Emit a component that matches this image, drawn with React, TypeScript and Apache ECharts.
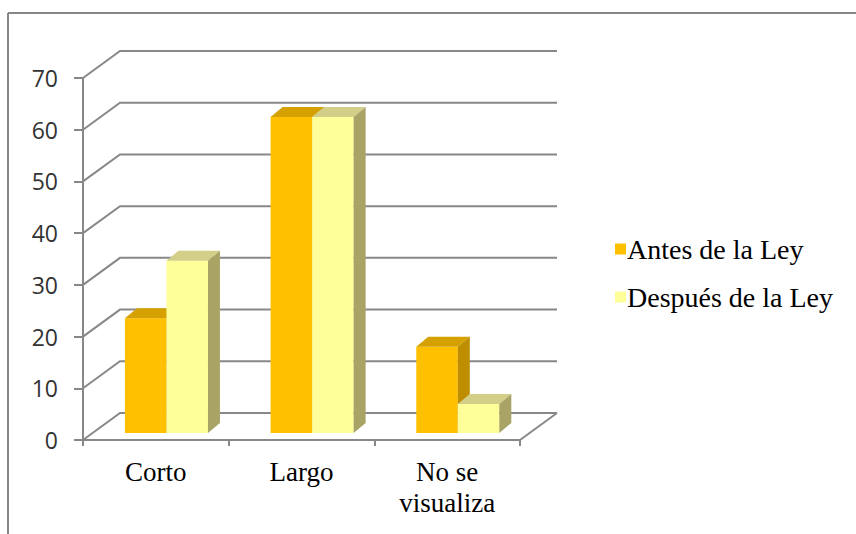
import React, { useEffect, useRef } from "react";
import * as echarts from "echarts";

const categories = ["Corto", "Largo", "No se\nvisualiza"];
const seriesNames = ["Antes de la Ley", "Después de la Ley"];
const antes = [22.2, 61.1, 16.7];
const despues = [33.3, 61.1, 5.6];
const yTicks = [0, 10, 20, 30, 40, 50, 60, 70];

const DX = 37; // wall depth x
const DY = 27; // wall depth y
const OX = 9.6; // bar front-plane offset
const OY = 7;
const BDX = 12; // bar depth
const BDY = 10;

const faceColors = [
  { front: "#FFC000", top: "#D4A100", side: "#BE8E00" },
  { front: "#FFFF99", top: "#D3CF89", side: "#A9A466" },
];

export default function App() {
  const ref = useRef<HTMLDivElement>(null);
  useEffect(() => {
    if (!ref.current) return;
    const chart = echarts.init(ref.current, null, { renderer: "svg" });
    const gridColor = "#888888";

    const barRender = (s: number) => (params: any, api: any) => {
      const cat = api.value(0);
      const v = api.value(1);
      const bandW = api.size([1, 0])[0];
      const base = api.coord([cat, 0]);
      const topP = api.coord([cat, v]);
      const bandStart = base[0] - bandW / 2;
      const barW = bandW * 0.285;
      const x0 = bandStart + OX + bandW * 0.222 + s * barW;
      const x1 = x0 + barW;
      const yT = topP[1] - OY;
      const yB = base[1] - OY;
      const c = faceColors[s];
      return {
        type: "group",
        children: [
          {
            type: "polygon",
            shape: { points: [[x0, yT], [x1, yT], [x1, yB], [x0, yB]] },
            style: { fill: c.front },
          },
          {
            type: "polygon",
            shape: { points: [[x0, yT], [x0 + BDX, yT - BDY], [x1 + BDX, yT - BDY], [x1, yT]] },
            style: { fill: c.top },
          },
          {
            type: "polygon",
            shape: { points: [[x1, yT], [x1 + BDX, yT - BDY], [x1 + BDX, yB - BDY], [x1, yB]] },
            style: { fill: c.side },
          },
        ],
      };
    };

    const option: any = {
      animation: false,
      backgroundColor: "#ffffff",
      graphic: [
        {
          type: "line",
          shape: { x1: 8, y1: 13, x2: 856, y2: 13 },
          style: { stroke: "#868686", lineWidth: 2 },
        },
        {
          type: "line",
          shape: { x1: 8, y1: 13, x2: 8, y2: 534 },
          style: { stroke: "#868686", lineWidth: 2 },
        },
      ],
      legend: {
        data: seriesNames,
        orient: "vertical",
        left: 610,
        top: 230,
        itemWidth: 11,
        itemHeight: 11,
        itemGap: 20,
        icon: "rect",
        textStyle: {
          fontFamily: "Liberation Serif",
          fontSize: 28,
          lineHeight: 28,
          color: "#000",
          padding: [0, 0, 0, -4],
        },
      },
      grid: { left: 83, top: 78, width: 437, height: 362 },
      xAxis: {
        type: "category",
        data: categories,
        boundaryGap: true,
        axisLine: { show: true, lineStyle: { color: gridColor, width: 2 } },
        axisTick: { show: true, length: 6, lineStyle: { color: gridColor, width: 2 } },
        axisLabel: {
          margin: 16,
          fontFamily: "Liberation Serif",
          fontSize: 27,
          lineHeight: 31,
          color: "#000",
        },
        splitLine: { show: false },
      },
      yAxis: {
        type: "value",
        min: 0,
        max: 70,
        interval: 10,
        axisLine: { show: true, lineStyle: { color: gridColor, width: 2 } },
        axisTick: { show: true, length: 9, lineStyle: { color: gridColor, width: 2 } },
        axisLabel: {
          margin: 25,
          fontFamily: "Open Sans",
          fontSize: 23,
          color: "#333",
        },
        splitLine: { show: false },
      },
      series: [
        {
          type: "custom",
          name: "grid",
          z: 1,
          silent: true,
          data: yTicks.map((t) => [0, t]),
          renderItem: (params: any, api: any) => {
            const cs = params.coordSys;
            const v = api.value(1);
            const y = api.coord([0, v])[1];
            const left = cs.x;
            const right = cs.x + cs.width;
            const children: any[] = [
              {
                type: "polyline",
                shape: { points: [[left, y], [left + DX, y - DY], [right + DX, y - DY]] },
                style: { stroke: gridColor, lineWidth: 2, fill: "none" },
              },
            ];
            if (v === 0) {
              children.push({
                type: "line",
                shape: { x1: right, y1: y, x2: right + DX, y2: y - DY },
                style: { stroke: gridColor, lineWidth: 2 },
              });
            }
            return { type: "group", children };
          },
        },
        {
          type: "custom",
          name: seriesNames[0],
          z: 2,
          itemStyle: { color: faceColors[0].front },
          data: antes.map((v, i) => [i, v]),
          renderItem: barRender(0),
        },
        {
          type: "custom",
          name: seriesNames[1],
          z: 3,
          itemStyle: { color: faceColors[1].front },
          data: despues.map((v, i) => [i, v]),
          renderItem: barRender(1),
        },
      ],
    };
    chart.setOption(option);
    return () => chart.dispose();
  }, []);
  return (
    <div
      ref={ref}
      style={{ position: "absolute", left: 0, top: 0, width: 856, height: 534 }}
    />
  );
}
